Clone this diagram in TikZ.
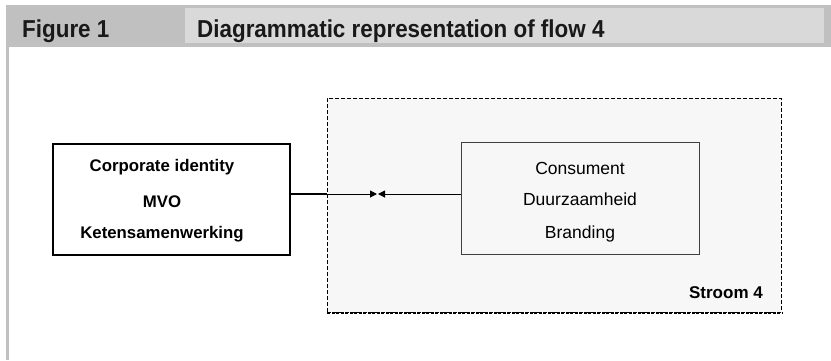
\documentclass[tikz,border=0pt]{standalone}
\usepackage{fontspec}
\setmainfont{Liberation Sans}
\newfontfamily\headfont[FakeStretch=0.915]{Liberation Sans}
\usetikzlibrary{arrows.meta}
\definecolor{hdrdark}{HTML}{C0C0C0}
\definecolor{hdrlight}{HTML}{D9D9D9}
\definecolor{streamfill}{HTML}{F7F7F7}
\definecolor{boxline}{HTML}{404040}
\tikzset{
  txt/.style={inner sep=0pt, anchor=base, text=black},
  boldtxt/.style={txt, font=\fontsize{16.8}{19}\selectfont\bfseries},
  plaintxt/.style={txt, font=\fontsize{17.5}{20}\selectfont},
  hdrtxt/.style={inner sep=0pt, anchor=base west, font=\headfont\fontsize{24.5}{28}\selectfont\bfseries, text=black!90},
  arrowtip/.style={-{Triangle[length=7pt,width=7pt]}}
}
\begin{document}
\begin{tikzpicture}[x=1pt,y=-1pt]
  \useasboundingbox (0,0) rectangle (831,360);
  % header bar
  \fill[hdrdark] (6,5) rectangle (831,47);
  \fill[hdrlight] (185,8) rectangle (824,43);
  \fill[hdrdark] (6,47) rectangle (9,360);
  \node[hdrtxt] (figlabel) at (22,37.5) {Figure 1};
  \node[hdrtxt] (figtitle) at (197,37.5) {Diagrammatic representation of flow 4};
  % stream area
  \node[draw=black, fill=streamfill, line width=0.9pt, dash pattern=on 4pt off 2pt,
        minimum width=454pt, minimum height=214pt, inner sep=0pt, anchor=north west]
        (stream) at (327,98) {};
  \draw[line width=1.8pt, dash pattern=on 3pt off 1.5pt] (stream.south west) -- (stream.south east);
  \node[txt, anchor=base east, font=\fontsize{17}{20}\selectfont\bfseries] (streamlabel) at (763,298) {Stroom 4};
  % inner box
  \node[draw=boxline, fill=streamfill, line width=1pt, minimum width=238pt, minimum height=112pt,
        inner sep=0pt, anchor=north west] (ib) at (461,142) {};
  \node[plaintxt] (ib1) at (580,174) {Consument};
  \node[plaintxt] (ib2) at (580,205) {Duurzaamheid};
  \node[plaintxt] (ib3) at (580,238) {Branding};
  % left box
  \node[draw=black, fill=white, line width=2pt, minimum width=237pt, minimum height=111pt,
        inner sep=0pt, anchor=north west] (lb) at (52,143) {};
  \node[boldtxt] (lb1) at (162,171.5) {Corporate identity};
  \node[boldtxt] (lb2) at (162,207) {MVO};
  \node[boldtxt] (lb3) at (162,238) {Ketensamenwerking};
  % connectors
  \coordinate (edge) at (327,194);
  \coordinate (tipA) at (377,194);
  \coordinate (tipB) at (378,194);
  \draw[line width=2pt] (lb.east |- edge) -- (edge);
  \draw[line width=1pt, arrowtip] (edge) -- (tipA);
  \draw[line width=1pt, arrowtip] (ib.west |- edge) -- (tipB);
\end{tikzpicture}
\end{document}
